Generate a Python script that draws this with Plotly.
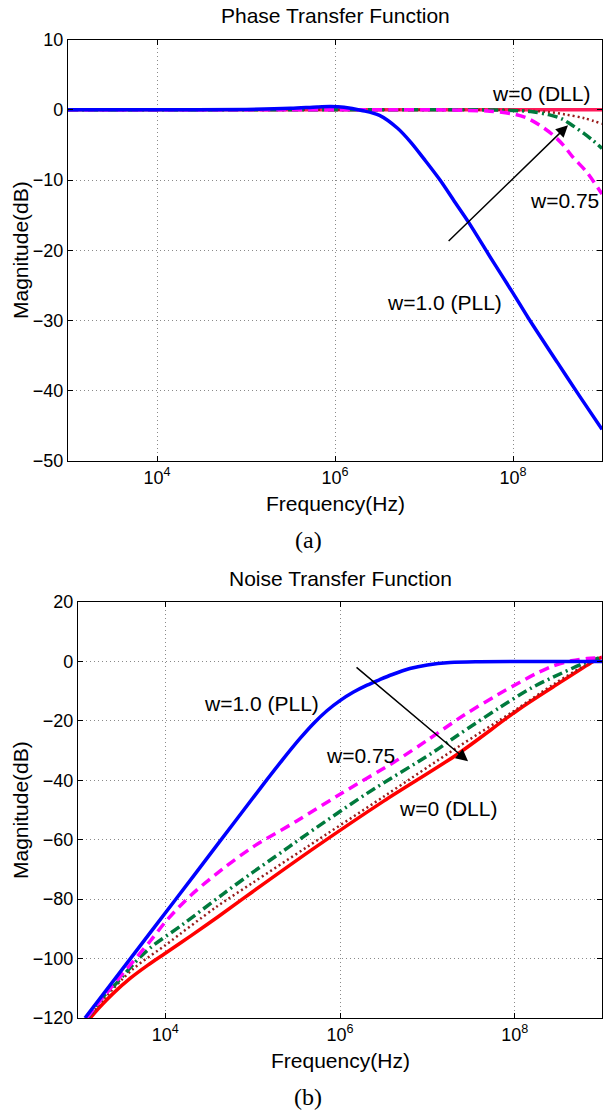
import plotly.graph_objects as go

# ---------------- data ----------------
# frequencies stored as log10(Hz); magnitudes in dB
# --- (a) Phase transfer function ---
pt_w1_logf = [3.0, 4.0, 5.0, 5.5, 5.8, 5.95, 6.1, 6.3, 6.5, 6.7, 6.85, 7.0, 7.18, 7.35, 7.5, 7.76, 8.0, 8.17, 8.5, 8.75, 9.0]
pt_w1_db = [0.0, 0.0, 0.05, 0.2, 0.4, 0.45, 0.35, -0.1, -0.8, -2.6, -4.6, -7.0, -10.0, -13.2, -16.0, -21.3, -26.1, -29.6, -36.0, -40.8, -45.5]

pt_w075_logf = [3.0, 5.0, 6.0, 7.0, 7.5, 7.74, 8.0, 8.16, 8.3, 8.45, 8.57, 8.67, 8.83, 9.0]
pt_w075_db = [0.0, 0.0, 0.0, 0.0, -0.1, -0.2, -0.6, -1.2, -2.2, -3.6, -5.1, -6.7, -8.9, -12.0]

pt_w05_logf = [3.0, 6.0, 7.5, 8.0, 8.2, 8.4, 8.55, 8.64, 8.8, 8.9, 9.0]
pt_w05_db = [0.0, 0.0, 0.0, -0.1, -0.25, -0.7, -1.3, -2.0, -3.4, -4.4, -5.5]

pt_w025_logf = [3.0, 6.0, 7.5, 8.0, 8.38, 8.6, 8.8, 9.0]
pt_w025_db = [0.0, 0.0, 0.0, -0.05, -0.3, -0.7, -1.2, -2.0]

pt_w0_logf = [3.0, 6.0, 9.0]
pt_w0_db = [0.0, 0.0, 0.0]

# --- (b) Noise transfer function ---
nt_w1_logf = [3.08, 3.6, 4.1, 4.6, 5.1, 5.35, 5.54, 5.7, 5.85, 6.0, 6.15, 6.31, 6.45, 6.6, 6.8, 7.0, 7.26, 7.6, 8.0, 9.0]
nt_w1_db = [-120, -100, -80.8, -61.5, -42.2, -32.8, -26, -20.8, -16.6, -13.2, -10.4, -8.0, -6.2, -4.4, -2.4, -1.2, -0.4, -0.1, 0.0, 0.0]

nt_w075_logf = [3.10, 3.3, 3.63, 3.83, 4.02, 4.3, 4.65, 5.0, 5.5, 6.0, 6.65, 7.0, 7.34, 7.46, 7.8, 8.06, 8.25, 8.44, 8.65, 8.83, 9.0]
nt_w075_db = [-120, -112.5, -101, -94, -87, -78.5, -70, -62.5, -53.8, -44.7, -33.3, -26.5, -19.6, -17.3, -11.3, -7.0, -4.0, -1.5, 0.2, 1.0, 1.3]

nt_w05_logf = [3.11, 3.3, 3.45, 3.63, 3.83, 4.2, 4.66, 5.0, 5.35, 5.54, 6.31, 7.07, 7.34, 7.83, 8.2, 8.44, 8.78, 9.0]
nt_w05_db = [-120, -112.5, -108, -102, -96.3, -88.5, -78.3, -71, -63.8, -59.8, -44.4, -30.5, -25, -15.5, -8.8, -5.3, -0.8, 1.5]

nt_w025_logf = [3.12, 3.3, 3.63, 4.0, 4.59, 5.0, 5.62, 6.5, 7.34, 8.0, 8.44, 8.78, 9.0]
nt_w025_db = [-120, -113.5, -103.5, -95.5, -82.5, -74.5, -62.5, -45.5, -29, -16.5, -7.8, -1.8, 1.4]

nt_w0_logf = [3.14, 3.25, 3.4, 3.6, 3.8, 4.0, 4.3, 4.6, 5.0, 5.72, 6.5, 7.34, 8.03, 8.44, 8.9, 9.0]
nt_w0_db = [-120, -116.3, -111.8, -106.6, -102.2, -98.2, -92.2, -86.0, -77.5, -62.5, -47, -31.3, -16.5, -8.6, 0.0, 1.5]

# tick labels
x_tick_vals = [1e4, 1e6, 1e8]
x_tick_text = ["10<sup>4</sup>", "10<sup>6</sup>", "10<sup>8</sup>"]
y1_tick_vals = [10, 0, -10, -20, -30, -40, -50]
y1_tick_text = ["10", "0", "\u221210", "\u221220", "\u221230", "\u221240", "\u221250"]
y2_tick_vals = [20, 0, -20, -40, -60, -80, -100, -120]
y2_tick_text = ["20", "0", "\u221220", "\u221240", "\u221260", "\u221280", "\u2212100", "\u2212120"]

# ---------------- figure ----------------
W, H = 603, 1110
FONT = "Liberation Sans, Arial, Helvetica, sans-serif"
SERIF = "Liberation Serif, Times New Roman, serif"

def hz(logf):
    return [10 ** v for v in logf]

styles = {
    "w0": dict(color="#ff0000", width=3.5, dash="solid"),
    "w025": dict(color="#9a1c1c", width=2.5, dash="2px,3px"),
    "w05": dict(color="#007a3d", width=3.5, dash="10px,4px,2px,4px"),
    "w075": dict(color="#ff00ff", width=3.5, dash="10px,6px"),
    "w1": dict(color="#0000ff", width=3.5, dash="solid"),
}

fig = go.Figure()
top = [("w0", pt_w0_logf, pt_w0_db), ("w025", pt_w025_logf, pt_w025_db),
       ("w05", pt_w05_logf, pt_w05_db), ("w075", pt_w075_logf, pt_w075_db),
       ("w1", pt_w1_logf, pt_w1_db)]
bot = [("w0", nt_w0_logf, nt_w0_db), ("w025", nt_w025_logf, nt_w025_db),
       ("w05", nt_w05_logf, nt_w05_db), ("w075", nt_w075_logf, nt_w075_db),
       ("w1", nt_w1_logf, nt_w1_db)]
for key, lf, db in top:
    st = dict(styles[key])
    if key == "w0":
        st["color"] = "#ff1a5a"
    fig.add_trace(go.Scatter(x=hz(lf), y=db, mode="lines",
                             line=dict(shape="spline", smoothing=0.9, **st),
                             xaxis="x", yaxis="y", hoverinfo="skip"))
for key, lf, db in bot:
    fig.add_trace(go.Scatter(x=hz(lf), y=db, mode="lines",
                             line=dict(shape="spline", smoothing=0.9, **styles[key]),
                             xaxis="x2", yaxis="y2", hoverinfo="skip"))

def px_x(p):
    return p / W

def px_y(p):
    return 1 - p / H

axis_common = dict(showline=True, linecolor="black", linewidth=1.2, mirror="ticks",
                   ticks="inside", ticklen=5, tickcolor="black", automargin=False,
                   showgrid=True, gridcolor="#8a8a8a", gridwidth=1, griddash="1px,3px",
                   zeroline=False, tickfont=dict(family=FONT, size=18, color="black"))

fig.update_layout(
    width=W, height=H, margin=dict(l=0, r=0, t=0, b=0, pad=0, autoexpand=False),
    paper_bgcolor="white", plot_bgcolor="white", showlegend=False,
    xaxis=dict(type="log", range=[3, 9], domain=[px_x(68), px_x(602)], anchor="y",
               tickvals=x_tick_vals, ticktext=x_tick_text, **axis_common),
    yaxis=dict(range=[-50, 10], domain=[px_y(461), px_y(39.5)], anchor="x",
               tickvals=y1_tick_vals, ticktext=y1_tick_text, **axis_common),
    xaxis2=dict(type="log", range=[3, 9], domain=[px_x(78), px_x(602)], anchor="y2",
                tickvals=x_tick_vals, ticktext=x_tick_text, **axis_common),
    yaxis2=dict(range=[-120, 20], domain=[px_y(1018), px_y(602)], anchor="x2",
                tickvals=y2_tick_vals, ticktext=y2_tick_text, **axis_common),
)

ann = []
def paper_text(txt, x, y, size=21, angle=0, family=FONT):
    ann.append(dict(text=txt, x=px_x(x), y=px_y(y), xref="paper", yref="paper",
                    showarrow=False, textangle=angle, xanchor="center", yanchor="middle",
                    font=dict(family=family, size=size, color="black")))

paper_text("Phase Transfer Function", 335, 16)
paper_text("Noise Transfer Function", 340, 578)
paper_text("Frequency(Hz)", 335, 503)
paper_text("Frequency(Hz)", 340, 1060)
paper_text("Magnitude(dB)", 20, 250, angle=-90)
paper_text("Magnitude(dB)", 20, 810, angle=-90)
paper_text("(a)", 308, 540, size=24, family=SERIF)
paper_text("(b)", 308, 1097, size=24, family=SERIF)

def data_text(txt, lx, y, xr, yr):
    ann.append(dict(text=txt, x=lx, y=y, xref=xr, yref=yr, showarrow=False,
                    xanchor="center", yanchor="middle",
                    font=dict(family=FONT, size=21, color="black")))

data_text("w=0 (DLL)", 8.315, 2.36, "x", "y")
data_text("w=0.75", 8.573, -12.9, "x", "y")
data_text("w=1.0 (PLL)", 7.225, -27.5, "x", "y")
data_text("w=1.0 (PLL)", 5.096, -14.1, "x2", "y2")
data_text("w=0.75", 6.229, -31.6, "x2", "y2")
data_text("w=0 (DLL)", 7.237, -49.5, "x2", "y2")

# arrows (tip, tail) in log10(Hz), dB
ann.append(dict(text="", x=8.618, y=-2.2, ax=7.26, ay=-18.9, xref="x", yref="y", axref="x", ayref="y",
                showarrow=True, arrowhead=2, arrowsize=1.6, arrowwidth=1.5, arrowcolor="black"))
ann.append(dict(text="", x=7.466, y=-33.6, ax=6.172, ay=-1.6, xref="x2", yref="y2", axref="x2", ayref="y2",
                showarrow=True, arrowhead=2, arrowsize=1.6, arrowwidth=1.5, arrowcolor="black"))

fig.update_layout(annotations=ann)
fig.write_html("out.html", config={"displayModeBar": False},
               post_script="document.body.style.margin='0px'; document.body.style.overflow='hidden';")
